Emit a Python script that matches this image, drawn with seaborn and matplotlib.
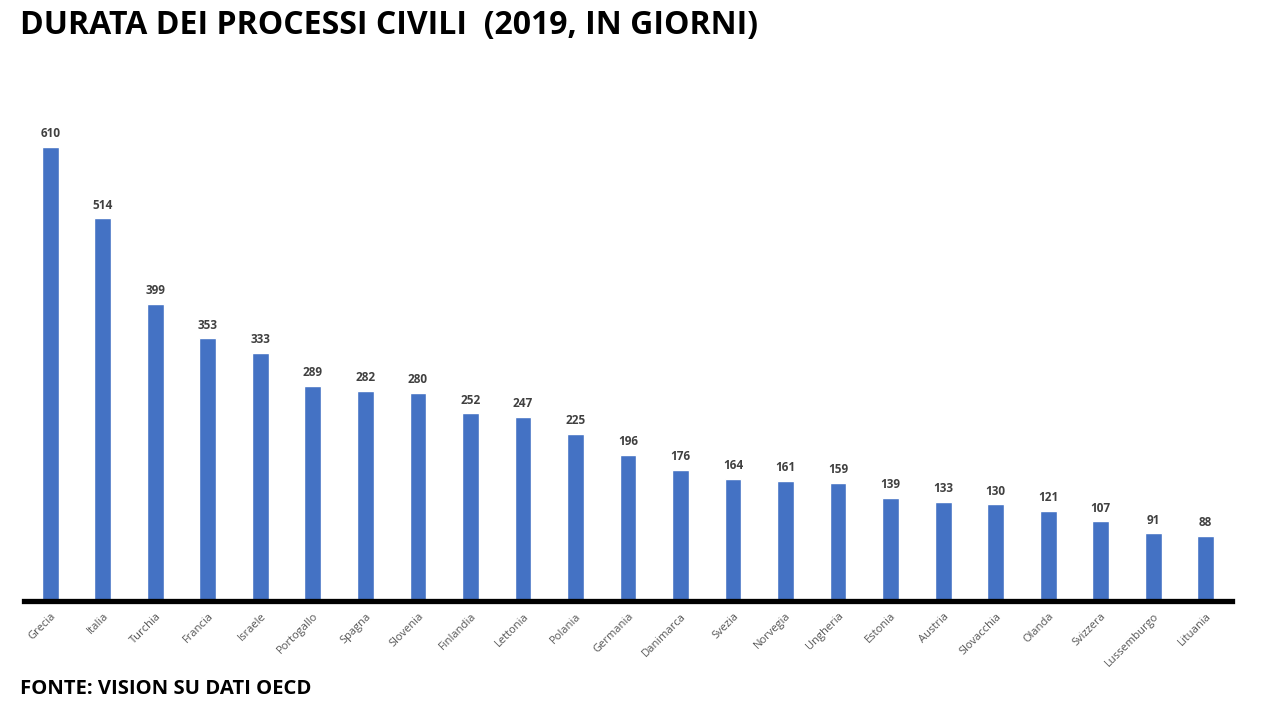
# ==============================
# SETUP
# ==============================
import pandas as pd
import matplotlib
matplotlib.use("Agg")
import matplotlib.pyplot as plt
import seaborn as sns

sns.set_style("white")
plt.rcParams["font.family"] = ["Open Sans", "DejaVu Sans"]

# ==============================
# DATA
# ==============================
paesi = ["Grecia", "Italia", "Turchia", "Francia", "Israele", "Portogallo", "Spagna",
         "Slovenia", "Finlandia", "Lettonia", "Polania", "Germania", "Danimarca",
         "Svezia", "Norvegia", "Ungheria", "Estonia", "Austria", "Slovacchia",
         "Olanda", "Svizzera", "Lussemburgo", "Lituania"]
giorni = [610, 514, 399, 353, 333, 289, 282, 280, 252, 247, 225, 196, 176,
          164, 161, 159, 139, 133, 130, 121, 107, 91, 88]

df = pd.DataFrame({"paese": paesi, "giorni": giorni})

# ==============================
# PLOT
# ==============================
fig = plt.figure(figsize=(12.71, 7.10), dpi=100)
ax = fig.add_axes([0.0189, 0.1535, 0.9504, 0.7056])

sns.barplot(data=df, x="paese", y="giorni", color="#4472C4", saturation=1,
            width=0.32, ax=ax)

ax.set_xlim(-0.5, len(paesi) - 0.5)
ax.set_ylim(0, 673)

# etichette valori
for i, v in enumerate(giorni):
    ax.text(i, v + 9, str(v), ha="center", va="bottom", fontsize=8.5,
            fontweight="bold", color="#404040")

ax.set_xlabel("")
ax.set_ylabel("")
ax.set_yticks([])
ax.tick_params(axis="x", length=0, pad=7)
ax.set_xticks(range(len(paesi)))
ax.set_xticklabels(paesi, rotation=45, ha="right", rotation_mode="anchor",
                   fontsize=8, color="#555555")

for s in ["top", "right", "left"]:
    ax.spines[s].set_visible(False)
ax.spines["bottom"].set_color("black")
ax.spines["bottom"].set_linewidth(3.8)

fig.text(0.016, 0.964, "DURATA DEI PROCESSI CIVILI  (2019, IN GIORNI)",
         fontsize=23, fontweight="bold", va="center", ha="left", color="black")
fig.text(0.016, 0.030, "FONTE: VISION SU DATI OECD",
         fontsize=14.6, fontweight="bold", va="center", ha="left", color="black")

fig.savefig("out.png", dpi=100)
